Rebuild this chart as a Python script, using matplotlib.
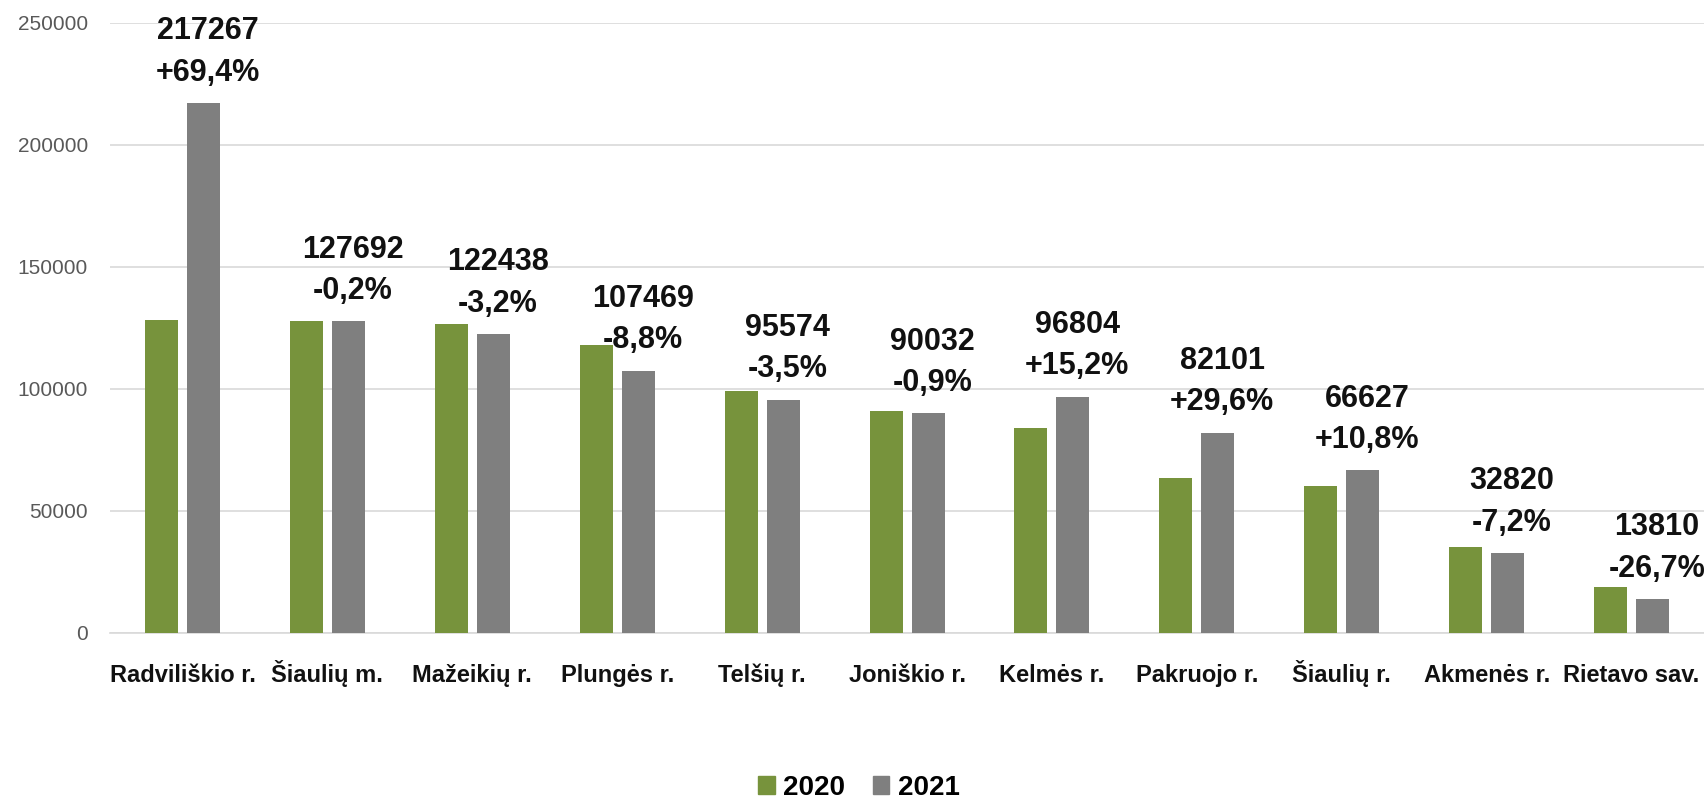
import numpy as np
import matplotlib
matplotlib.use('Agg')
from matplotlib import pyplot as plt
from matplotlib.patches import Patch

plt.rcParams['font.family'] = ['Liberation Sans Narrow', 'Liberation Sans', 'DejaVu Sans']

categories = ['Radviliškio r.', 'Šiaulių m.', 'Mažeikių r.', 'Plungės r.', 'Telšių r.',
              'Joniškio r.', 'Kelmės r.', 'Pakruojo r.', 'Šiaulių r.', 'Akmenės r.',
              'Rietavo sav.']
values_2020 = [128260, 127950, 126490, 117840, 99040, 90850, 84030, 63350, 60130, 35370, 18840]
values_2021 = [217267, 127692, 122438, 107469, 95574, 90032, 96804, 82101, 66627, 32820, 13810]
changes = ['+69,4%', '-0,2%', '-3,2%', '-8,8%', '-3,5%', '-0,9%', '+15,2%', '+29,6%',
           '+10,8%', '-7,2%', '-26,7%']
series_labels = ['2020', '2021']

green = '#77933C'
grey = '#7F7F7F'
grid_col = '#D9D9D9'

fig = plt.figure(figsize=(17.04, 7.98), dpi=100)
ax = fig.add_axes([0.0646, 0.2068, 0.9354, 0.7644])

x = np.arange(len(categories))
w = 0.228
off = 0.145
ax.bar(x - off, values_2020, width=w, color=green, zorder=3)
ax.bar(x + off, values_2021, width=w, color=grey, zorder=3)

for i, (xi, v, ch) in enumerate(zip(x, values_2021, changes)):
    # the biggest one is heavier in the original
    wt = 'bold' if i == 0 else 'semibold'
    ax.annotate(f'{v}\n{ch}', xy=(xi + off + 0.03, v), xytext=(0, 11),
                textcoords='offset points', ha='center', va='bottom',
                fontsize=22, fontweight=wt, color='#111111', linespacing=1.5)

ax.set_xlim(-0.5, len(categories) - 0.5)
ax.set_ylim(0, 250000)
ax.set_yticks(np.arange(0, 250001, 50000))
ax.yaxis.grid(True, color=grid_col, linewidth=1.2, zorder=0)
ax.set_axisbelow(True)
for s in ['top', 'right', 'left']:
    ax.spines[s].set_visible(False)
ax.spines['bottom'].set_color(grid_col)
ax.spines['bottom'].set_linewidth(1.2)

ax.tick_params(axis='y', length=0, pad=16, labelsize=15, labelcolor='#595959')
ax.tick_params(axis='x', length=0, pad=35)
ax.set_xticks(x)
ax.set_xticklabels(categories, fontsize=17, fontweight='bold', color='#111111')
for lab in ax.get_xticklabels():
    lab.set_verticalalignment('baseline')

handles = [Patch(color=green), Patch(color=grey)]
fig.legend(handles, series_labels, loc='center', bbox_to_anchor=(0.504, 0.013), ncol=2,
           frameon=False, prop={'size': 20, 'weight': 'bold'},
           handlelength=0.6, handleheight=0.6, handletextpad=0.3, columnspacing=1.0)

fig.savefig('out.png', dpi=100)
